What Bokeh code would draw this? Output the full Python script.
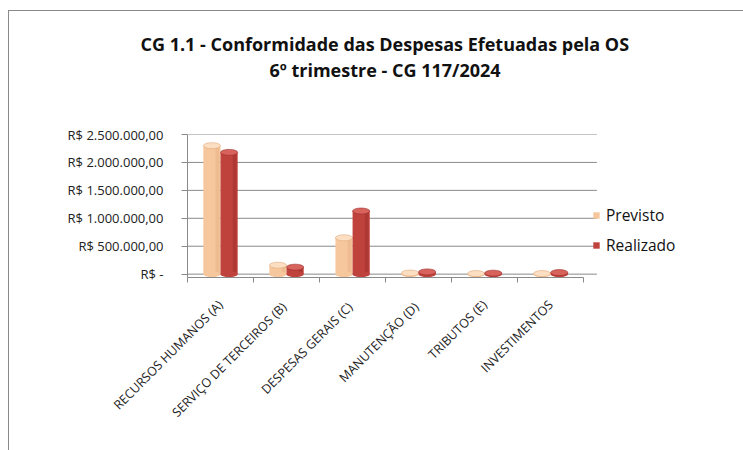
import math
from bokeh.plotting import figure
from bokeh.models import ColumnDataSource, FixedTicker, Legend, LegendItem, Title, Range1d
from bokeh.transform import dodge
from bokeh.embed import file_html
from bokeh.resources import INLINE

categories = ["RECURSOS HUMANOS (A)", "SERVIÇO DE TERCEIROS  (B)", "DESPESAS GERAIS  (C)",
              "MANUTENÇÃO  (D)", "TRIBUTOS (E)", "INVESTIMENTOS"]
previsto = [2300000, 160000, 650000, 20000, 10000, 10000]
realizado = [2180000, 125000, 1130000, 40000, 18000, 28000]
tick_values = [0, 500000, 1000000, 1500000, 2000000, 2500000]
tick_labels = ["R$ -", "R$ 500.000,00", "R$ 1.000.000,00", "R$ 1.500.000,00",
               "R$ 2.000.000,00", "R$ 2.500.000,00"]
title_lines = ["CG 1.1 - Conformidade das Despesas Efetuadas pela OS",
               "6º trimestre - CG 117/2024"]
series_names = ["Previsto", "Realizado"]

FONT = "Open Sans"
W, H = 743, 450
n = len(categories)
idx = list(range(n))

src = ColumnDataSource(dict(x=idx, prev=previsto, real=realizado, zero=[0] * n))
grid_src = ColumnDataSource(dict(y=tick_values, x0=[-0.5] * len(tick_values),
                                 x1=[n - 0.5 + 0.2] * len(tick_values)))

p = figure(x_range=Range1d(-0.5, 7.92), y_range=Range1d(-60000, 2500000), width=W, height=H,
           output_backend="svg", toolbar_location=None,
           min_border_left=187, min_border_right=0, min_border_top=134, min_border_bottom=173)
p.outline_line_color = None
p.background_fill_color = "white"
p.border_fill_alpha = 0
# chart-area frame (top and left edges), painted behind the transparent canvas border
p.styles = {"background": "linear-gradient(#8a8a8a, #8a8a8a) 8px 10px / 735px 1px no-repeat, "
                          "linear-gradient(#8a8a8a, #8a8a8a) 8px 10px / 1px 440px no-repeat, white"}
p.xgrid.grid_line_color = None
p.ygrid.grid_line_color = None

# back-wall gridlines
p.segment(x0="x0", x1="x1", y0="y", y1="y", source=grid_src, line_color="#8a8a8a", line_width=1)

bw = 0.26
off = 0.13
prev_body, prev_top, prev_edge = "#F6C79D", "#FCDFC3", "#E0A878"
real_body, real_top, real_edge = "#C0423D", "#D8625C", "#9A2C28"

r_prev = p.vbar(x=dodge("x", -off), top="prev", width=bw, source=src,
                fill_color=prev_body, line_color=None)
p.vbar(x=dodge("x", -off + bw * 0.32), top="prev", width=bw * 0.22, source=src,
       fill_color=prev_edge, fill_alpha=0.35, line_color=None)
p.ellipse(x=dodge("x", -off), y="zero", width=bw, height=6, height_units="screen",
          source=src, fill_color=prev_body, line_color=None)
p.ellipse(x=dodge("x", -off), y="prev", width=bw, height=6, height_units="screen",
          source=src, fill_color=prev_top, line_color=prev_edge, line_width=0.6)

r_real = p.vbar(x=dodge("x", off), top="real", width=bw, source=src,
                fill_color=real_body, line_color=None)
p.vbar(x=dodge("x", off + bw * 0.32), top="real", width=bw * 0.22, source=src,
       fill_color=real_edge, fill_alpha=0.45, line_color=None)
p.ellipse(x=dodge("x", off), y="zero", width=bw, height=6, height_units="screen",
          source=src, fill_color=real_body, line_color=None)
p.ellipse(x=dodge("x", off), y="real", width=bw, height=6, height_units="screen",
          source=src, fill_color=real_top, line_color=real_edge, line_width=0.6)

# y axis
p.yaxis.ticker = FixedTicker(ticks=tick_values)
p.yaxis.major_label_overrides = {v: t for v, t in zip(tick_values, tick_labels)}
p.yaxis.major_label_text_font = FONT
p.yaxis.major_label_text_font_size = "13px"
p.yaxis.major_label_text_color = "#222222"
p.yaxis.axis_line_color = "#8a8a8a"
p.yaxis.major_tick_line_color = "#8a8a8a"
p.yaxis.major_tick_out = 6
p.yaxis.major_tick_in = 0
p.yaxis.minor_tick_line_color = None
p.yaxis.major_label_standoff = 18
p.yaxis.bounds = (-60000, 2500000)

# x axis (category index -> label)
p.xaxis.ticker = FixedTicker(ticks=idx, minor_ticks=[i - 0.5 for i in range(n + 1)])
p.xaxis.major_label_overrides = {i: c for i, c in zip(idx, categories)}
p.xaxis.bounds = (-0.5, n - 0.5)
p.xaxis.major_label_orientation = math.pi / 4
p.xaxis.major_label_text_font = FONT
p.xaxis.major_label_text_font_size = "12.5px"
p.xaxis.major_label_text_color = "#222222"
p.xaxis.axis_line_color = "#8a8a8a"
p.xaxis.major_tick_line_color = None
p.xaxis.minor_tick_line_color = "#8a8a8a"
p.xaxis.minor_tick_out = 5
p.xaxis.minor_tick_in = 0
p.xaxis.major_label_standoff = 19

# two-line title, stacked above the frame (first added = nearest the frame)
p.add_layout(Title(text=" ", standoff=50, text_font_size="1px"), "above")
p.add_layout(Title(text=title_lines[1], align="left", offset=82, standoff=0,
                   text_font=FONT, text_font_style="bold", text_font_size="18px",
                   text_color="#111111"), "above")
p.add_layout(Title(text=title_lines[0], align="left", offset=-47, standoff=0,
                   text_font=FONT, text_font_style="bold", text_font_size="18px",
                   text_color="#111111"), "above")

legend = Legend(items=[LegendItem(label=series_names[0], renderers=[r_prev]),
                       LegendItem(label=series_names[1], renderers=[r_real])],
                location=(405, 21), orientation="vertical",
                glyph_width=8, glyph_height=8, label_height=16, spacing=8,
                padding=0, margin=0, border_line_color=None, background_fill_alpha=0,
                label_text_font=FONT, label_text_font_size="15.5px", label_text_color="#111111",
                label_standoff=6)
p.add_layout(legend)

open("out.html", "w").write(file_html(p, INLINE))
